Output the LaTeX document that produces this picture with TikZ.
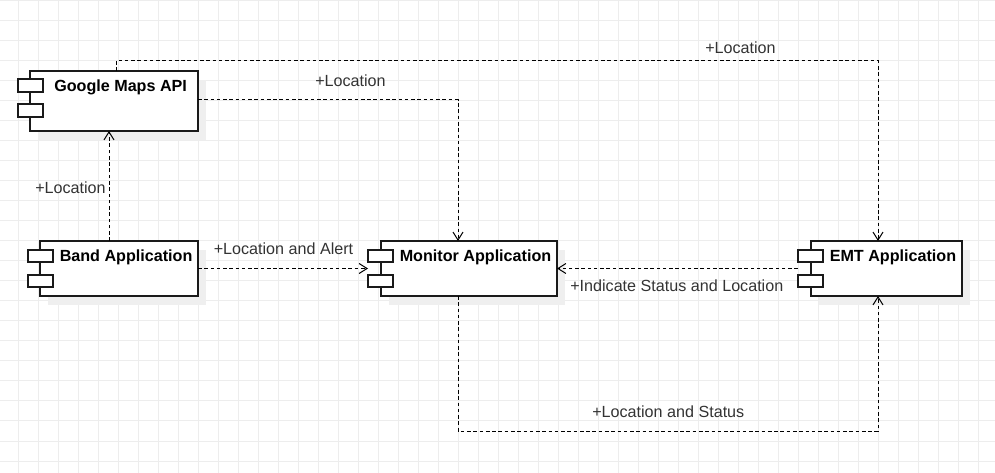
\documentclass[tikz,border=0pt]{standalone}
\usepackage{fontspec}
\setmainfont{Liberation Sans}
\usetikzlibrary{arrows.meta}
\definecolor{gridc}{HTML}{EDEDED}
\definecolor{shad}{HTML}{EFEFEF}
\definecolor{txt}{HTML}{333333}
\definecolor{edge}{HTML}{1A1A1A}
\def\u{0.75pt}
\begin{document}
\begin{tikzpicture}[x=0.75pt,y=-0.75pt,
  bounds/.style={inner sep=0pt, outer sep=0pt, draw=none},
  body/.style={draw=edge, line width=1.1pt, fill=white},
  tabbox/.style={draw=edge, line width=1.1pt, fill=white},
  shadowbox/.style={fill=shad, draw=none},
  title/.style={font=\fontsize{12.1pt}{14pt}\selectfont\bfseries, text=black, inner sep=0pt, anchor=base west},
  lbl/.style={font=\fontsize{12.1pt}{14pt}\selectfont, text=txt, inner sep=0pt, anchor=base west},
  conn/.style={draw=black, line width=0.75pt, dash pattern=on 2.7pt off 2.0pt, -{Straight Barb[length=6pt,width=7.5pt]}}
]
\useasboundingbox (0,0) rectangle (995,473);
\fill[white] (0,0) rectangle (995,473);
% grid
\foreach \gx in {18,38,...,998} \draw[gridc, line width=0.75pt] (\gx,0) -- (\gx,473);
\foreach \gy in {1,21,...,471} \draw[gridc, line width=0.75pt] (0,\gy) -- (995,\gy);

% component bounds
\node[bounds, minimum width=180*\u, minimum height=60*\u] (gm) at (108,101) {};
\node[bounds, minimum width=170*\u, minimum height=55*\u] (band) at (113,268.5) {};
\node[bounds, minimum width=189*\u, minimum height=55*\u] (mon) at (462.5,268.5) {};
\node[bounds, minimum width=164*\u, minimum height=55*\u] (emt) at (880,268.5) {};

% shadows
\foreach \n/\off in {gm/12, band/12, mon/13, emt/13} {
  \fill[shadowbox] ([xshift=\off*\u+8*\u, yshift=-9*\u]\n.south west) rectangle ([xshift=8*\u, yshift=-9*\u]\n.north east);
}
% bodies and tabs
\foreach \n/\off in {gm/12, band/12, mon/13, emt/13} {
  \draw[body] ([xshift=\off*\u]\n.south west) rectangle (\n.north east);
}
\draw[tabbox] ([yshift=-8*\u]gm.north west) rectangle ++(25,13);
\draw[tabbox] ([yshift=-33*\u]gm.north west) rectangle ++(25,13);
\foreach \n in {band, mon, emt} {
  \draw[tabbox] ([yshift=-9*\u]\n.north west) rectangle ++(25,12);
  \draw[tabbox] ([yshift=-34*\u]\n.north west) rectangle ++(25,12);
}

% titles
\node[title] at (54,92) {Google Maps API};
\node[title] at (59.5,262) {Band Application};
\node[title] at (399.5,262) {Monitor Application};
\node[title] at (829.5,262) {EMT Application};

% connectors
\draw[conn] (gm.north -| 116,0) -- ++(0,-10) -| (emt.north -| 878,0);
\draw[conn] (gm.east |- 0,100) -| (mon.north -| 458,0);
\draw[conn] (band.north -| 109,0) -- (gm.south -| 109,0);
\draw[conn] (band.east) -- (mon.west);
\draw[conn] (emt.west) -- (mon.east);
\draw[conn] (mon.south -| 458,0) -- ++(0,135) -| (emt.south -| 878,0);

% labels
\node[lbl] at (705,54) {+Location};
\node[lbl] at (315,87) {+Location};
\node[lbl] at (35,193.5) {+Location};
\node[lbl] at (213.5,255) {+Location and Alert};
\node[lbl] at (570,291.5) {+Indicate Status and Location};
\node[lbl] at (592,417) {+Location and Status};
\end{tikzpicture}
\end{document}
